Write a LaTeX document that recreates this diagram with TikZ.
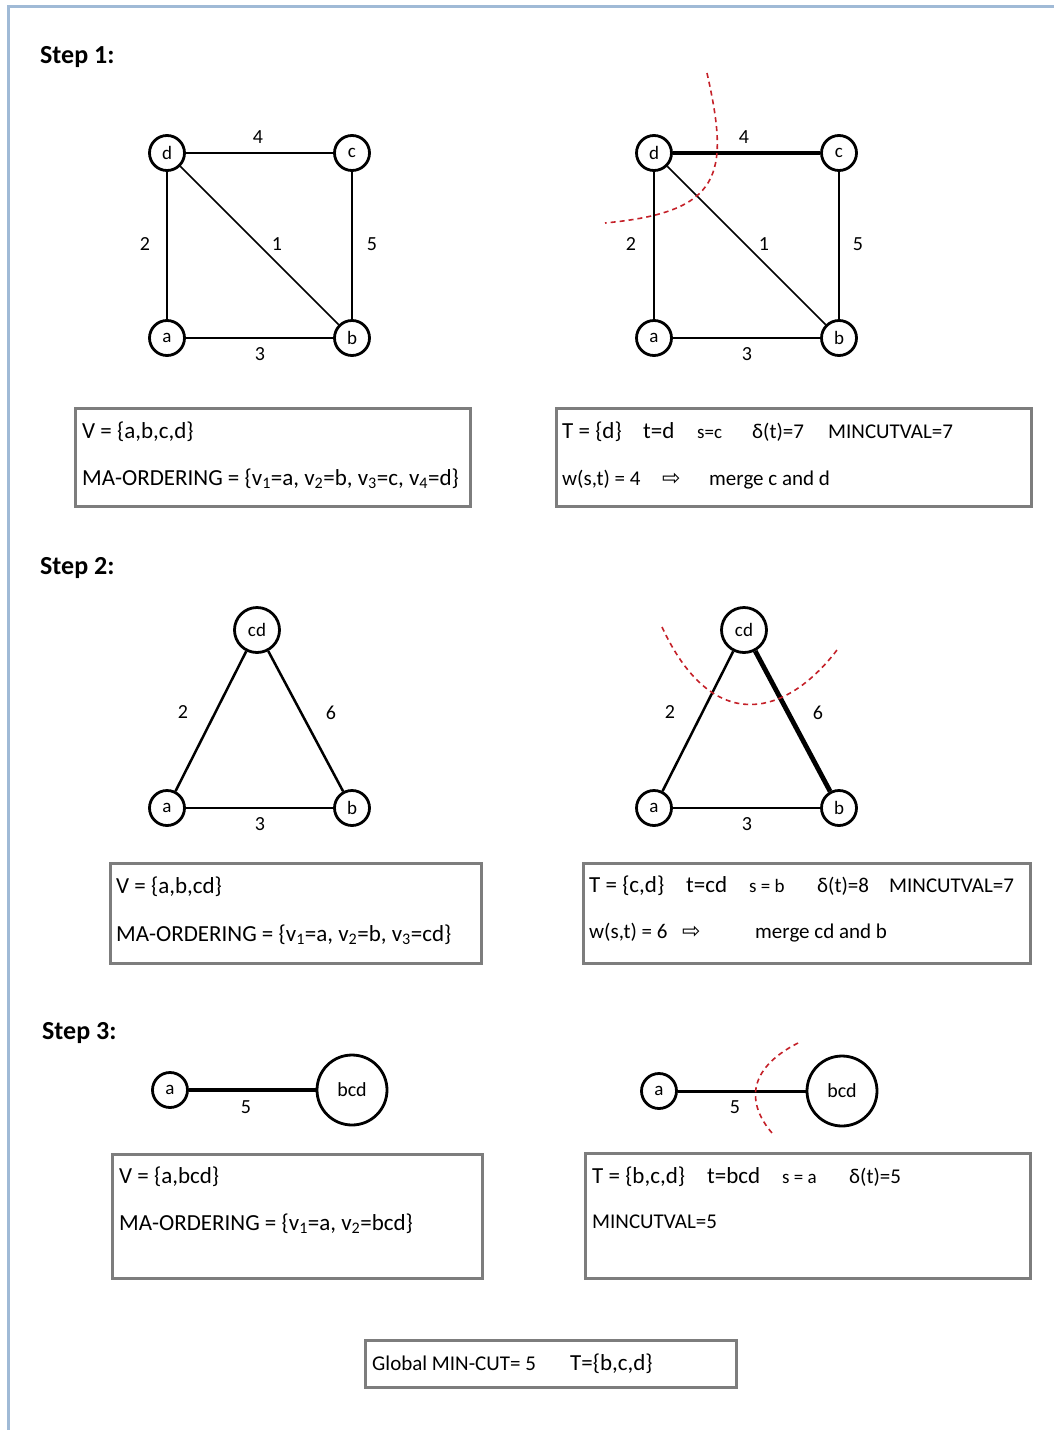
\documentclass[tikz,border=0pt]{standalone}
\usepackage{fontspec}
\setmainfont{Carlito}
\newfontfamily\arrowfont{DejaVu Sans}
\usetikzlibrary{positioning}
\definecolor{frameblue}{RGB}{160,186,214}
\definecolor{cutred}{RGB}{196,32,40}
\definecolor{boxgray}{RGB}{125,125,125}
\tikzset{
  vert/.style={circle,draw,line width=2.8pt,minimum size=35,inner sep=0pt,font=\fontsize{19}{21}\selectfont},
  bigvert/.style={vert,minimum size=45},
  hugevert/.style={vert,minimum size=70,font=\fontsize{20}{22}\selectfont},
  edge/.style={line width=2.5pt},
  thinedge/.style={line width=1.5pt},
  heavyedge/.style={line width=4.8pt},
  wlabel/.style={inner sep=0pt,font=\fontsize{20}{22}\selectfont},
  steptitle/.style={anchor=base west,inner sep=0pt,font=\fontsize{26}{29}\selectfont\bfseries},
  infobox/.style={draw=boxgray,line width=3pt,inner sep=0pt,anchor=north west},
  txt/.style={anchor=base west,inner sep=0pt,font=\fontsize{21}{25}\selectfont},
  settxt/.style={txt,font=\fontsize{23}{27}\selectfont},
  midtxt/.style={txt,font=\fontsize{21}{25}\selectfont},
  smalltxt/.style={txt,font=\fontsize{19}{22}\selectfont},
  arrowtxt/.style={txt,font=\fontsize{22}{24}\arrowfont},
  cut/.style={cutred,line width=1.6pt,dash pattern=on 5pt off 4pt}
}
\begin{document}
\begin{tikzpicture}[x=1pt,y=-1pt]
	\useasboundingbox (0,0) rectangle (1054,1430);
	\draw[frameblue,line width=3pt] (8,1430) -- (8,6) -- (1054,6);
	
	% step 1
	\node[steptitle] (t1) at (40,63) {Step 1:};
	\node[vert] (d1) at (167,153) {d};
	\node[vert] (c1) at (352,153) {c};
	\node[vert] (a1) at (167,338) {a};
	\node[vert] (b1) at (352,338) {b};
	\draw[edge] (d1)--(c1);
	\draw[edge] (d1)--(a1);
	\draw[edge] (c1)--(b1);
	\draw[edge] (a1)--(b1);
	\draw[thinedge] (d1)--(b1);
	\node[wlabel] (l1dc) at (258,137) {4};
	\node[wlabel] (l1da) at (145,244) {2};
	\node[wlabel] (l1db) at (277,244) {1};
	\node[wlabel] (l1cb) at (372,244) {5};
	\node[wlabel] (l1ab) at (260,354) {3};
	
	\node[vert] (d1r) at (654,153) {d};
	\node[vert] (c1r) at (839,153) {c};
	\node[vert] (a1r) at (654,338) {a};
	\node[vert] (b1r) at (839,338) {b};
	\draw[heavyedge] (d1r)--(c1r);
	\draw[edge] (d1r)--(a1r);
	\draw[edge] (c1r)--(b1r);
	\draw[edge] (a1r)--(b1r);
	\draw[thinedge] (d1r)--(b1r);
	\node[wlabel] (l1rdc) at (744,137) {4};
	\node[wlabel] (l1rda) at (631,244) {2};
	\node[wlabel] (l1rdb) at (764,244) {1};
	\node[wlabel] (l1rcb) at (858,244) {5};
	\node[wlabel] (l1rab) at (747,354) {3};
	\draw[cut] (707,73) .. controls (730,175) and (722,212) .. (605,223);
	
	\node[infobox,minimum width=395,minimum height=98] (box1l) at (74,407) {};
	\node[settxt] (v1) at (82,438) {V = \{a,b,c,d\}};
	\node[settxt] (ma1) at (82,485) {MA-ORDERING = \{v\textsubscript{1}=a, v\textsubscript{2}=b, v\textsubscript{3}=c, v\textsubscript{4}=d\}};
	
	\node[infobox,minimum width=475,minimum height=98] (box1r) at (555,407) {};
	\node[settxt] (T1) at (562,438) {T = \{d\}};
	\node[settxt] (tt1) at (643,438) {t=d};
	\node[smalltxt] (s1) at (697,438) {s=c};
	\node[txt] (dl1) at (752,438) {δ(t)=7};
	\node[txt] (mc1) at (828,438) {MINCUTVAL=7};
	\node[midtxt] (w1) at (562,485) {w(s,t) = 4};
	\node[arrowtxt] (ar1) at (662,485) {⇨};
	\node[txt] (mg1) at (709,485) {merge c and d};
	
	% step 2
	\node[steptitle] (t2) at (40,574) {Step 2:};
	\node[bigvert] (cd2) at (257,630) {cd};
	\node[vert] (a2) at (167,808) {a};
	\node[vert] (b2) at (352,808) {b};
	\draw[edge] (cd2)--(a2);
	\draw[edge] (cd2)--(b2);
	\draw[edge] (a2)--(b2);
	\node[wlabel] (l2ca) at (183,712) {2};
	\node[wlabel] (l2cb) at (331,713) {6};
	\node[wlabel] (l2ab) at (260,824) {3};
	
	\node[bigvert] (cd2r) at (744,630) {cd};
	\node[vert] (a2r) at (654,808) {a};
	\node[vert] (b2r) at (839,808) {b};
	\draw[edge] (cd2r)--(a2r);
	\draw[heavyedge] (cd2r)--(b2r);
	\draw[edge] (a2r)--(b2r);
	\node[wlabel] (l2rca) at (670,712) {2};
	\node[wlabel] (l2rcb) at (818,713) {6};
	\node[wlabel] (l2rab) at (747,824) {3};
	\draw[cut] (662,627) .. controls (712,735) and (785,718) .. (837,650);
	
	\node[infobox,minimum width=371,minimum height=100] (box2l) at (109,862) {};
	\node[settxt] (v2) at (116,893) {V = \{a,b,cd\}};
	\node[settxt] (ma2) at (116,941) {MA-ORDERING = \{v\textsubscript{1}=a, v\textsubscript{2}=b, v\textsubscript{3}=cd\}};
	
	\node[infobox,minimum width=447,minimum height=100] (box2r) at (582,862) {};
	\node[settxt] (T2) at (589,892) {T = \{c,d\}};
	\node[settxt] (tt2) at (686,892) {t=cd};
	\node[smalltxt] (s2) at (749,892) {s = b};
	\node[txt] (dl2) at (817,892) {δ(t)=8};
	\node[txt] (mc2) at (889,892) {MINCUTVAL=7};
	\node[midtxt] (w2) at (589,938) {w(s,t) = 6};
	\node[arrowtxt] (ar2) at (682,938) {⇨};
	\node[txt] (mg2) at (755,938) {merge cd and b};
	
	% step 3
	\node[steptitle] (t3) at (42,1039) {Step 3:};
	\node[vert] (a3) at (170,1090) {a};
	\node[hugevert] (bcd3) at (352,1090) {bcd};
	\draw[heavyedge] (a3)--(bcd3);
	\node[wlabel] (l3) at (246,1107) {5};
	
	\node[vert] (a3r) at (659,1091) {a};
	\node[hugevert] (bcd3r) at (842,1091) {bcd};
	\draw[line width=3pt] (a3r)--(bcd3r);
	\node[wlabel] (l3r) at (735,1107) {5};
	\draw[cut] (798,1043) .. controls (745,1070) and (748,1105) .. (772,1133);
	
	\node[infobox,minimum width=370,minimum height=124] (box3l) at (111,1153) {};
	\node[settxt] (v3) at (119,1183) {V = \{a,bcd\}};
	\node[settxt] (ma3) at (119,1230) {MA-ORDERING = \{v\textsubscript{1}=a, v\textsubscript{2}=bcd\}};
	
	\node[infobox,minimum width=445,minimum height=125] (box3r) at (584,1152) {};
	\node[settxt] (T3) at (592,1183) {T = \{b,c,d\}};
	\node[settxt] (tt3) at (707,1183) {t=bcd};
	\node[smalltxt] (s3) at (782,1183) {s = a};
	\node[txt] (dl3) at (849,1183) {δ(t)=5};
	\node[midtxt] (mc3) at (592,1228) {MINCUTVAL=5};
	
	% result
	\node[infobox,minimum width=371,minimum height=47] (boxres) at (364,1339) {};
	\node[midtxt] (gm) at (372,1370) {Global MIN-CUT= 5};
	\node[settxt] (Tres) at (570,1370) {T=\{b,c,d\}};
\end{tikzpicture}
\end{document}
